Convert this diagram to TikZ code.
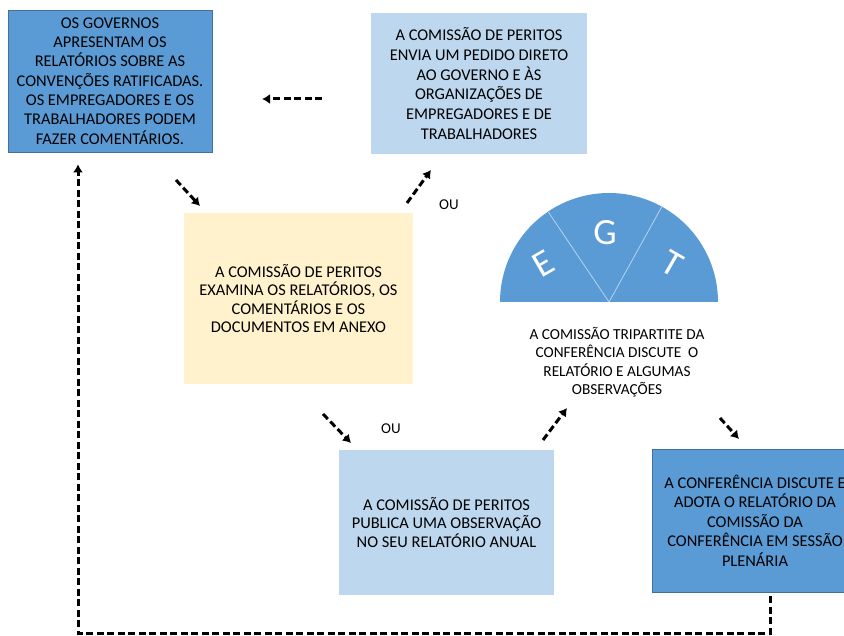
\documentclass[tikz,border=0pt]{standalone}
\usepackage{fontspec}
\setmainfont{Carlito}
\usetikzlibrary{arrows.meta}
\definecolor{dblue}{RGB}{91,155,213}
\definecolor{dborder}{RGB}{65,113,156}
\definecolor{lblue}{RGB}{189,215,238}
\definecolor{lyellow}{RGB}{255,242,204}
\tikzset{
  boxtext/.style={font=\fontsize{16.4}{19.3}\selectfont, align=center, text=black, inner sep=0pt},
  tightfont/.style={font=\fontsize{16.4}{18.6}\selectfont},
  darkbox/.style={boxtext, fill=dblue, draw=dborder, line width=0.8pt},
  lightbox/.style={boxtext, fill=lblue},
  yellowbox/.style={boxtext, fill=lyellow},
  dasharrow/.style={line width=3pt, dash pattern=on 7pt off 3.5pt, -{Latex[length=8pt,width=10pt]}},
  oulabel/.style={font=\fontsize{15}{16}\selectfont, inner sep=2pt},
  letter/.style={font=\fontsize{37}{37}\selectfont, text=white}
}
\begin{document}
\begin{tikzpicture}[x=1pt,y=-1pt]
\useasboundingbox (0,0) rectangle (844,636);
\clip (0,0) rectangle (844,636);
\fill[white] (0,0) rectangle (844,636);

\node[darkbox, minimum width=204pt, minimum height=142pt] (gov) at (110,81)
  {OS GOVERNOS\\APRESENTAM OS\\RELATÓRIOS SOBRE AS\\CONVENÇÕES RATIFICADAS.\\OS EMPREGADORES E OS\\TRABALHADORES PODEM\\FAZER COMENTÁRIOS.};
\node[lightbox, font=\fontsize{16.4}{19.7}\selectfont, minimum width=216pt, minimum height=141pt] (pedido) at (479,83.5)
  {A COMISSÃO DE PERITOS\\ENVIA UM PEDIDO DIRETO\\AO GOVERNO E ÀS\\ORGANIZAÇÕES DE\\EMPREGADORES E DE\\TRABALHADORES};
\node[yellowbox, tightfont, minimum width=229pt, minimum height=171pt] (exam) at (298.5,298.5)
  {A COMISSÃO DE PERITOS\\EXAMINA OS RELATÓRIOS, OS\\COMENTÁRIOS E OS\\DOCUMENTOS EM ANEXO};
\node[lightbox, font=\fontsize{16.4}{18.3}\selectfont, minimum width=215pt, minimum height=145pt] (obs) at (446.5,522.5)
  {A COMISSÃO DE PERITOS\\PUBLICA UMA OBSERVAÇÃO\\NO SEU RELATÓRIO ANUAL};
\node[darkbox, font=\fontsize{16.4}{19.6}\selectfont, minimum width=206pt, minimum height=143pt] (conf) at (755,520.5)
  {A CONFERÊNCIA DISCUTE E\\ADOTA O RELATÓRIO DA\\COMISSÃO DA\\CONFERÊNCIA EM SESSÃO\\PLENÁRIA};

% semicircle
\coordinate (semic) at (609,302);
\fill[dblue] (500,302) arc[start angle=180, end angle=0, radius=109pt] -- cycle;
\draw[white!55!dblue, line width=0.8pt] (semic) -- ++(124:108.5pt);
\draw[white!55!dblue, line width=0.8pt] (semic) -- ++(61:108.5pt);
\node[letter, rotate=30] (le) at (543,264) {E};
\node[letter] (lg) at (605,233) {G};
\node[letter, rotate=-30] (lt) at (672,264) {T};

\node[boxtext, font=\fontsize{15.3}{18.4}\selectfont] (tri) at (617,362)
  {A COMISSÃO TRIPARTITE DA\\CONFERÊNCIA DISCUTE~ O\\RELATÓRIO E ALGUMAS\\OBSERVAÇÕES};

\node[oulabel] (ou1) at (449,205) {OU};
\node[oulabel] (ou2) at (391,429) {OU};

% arrows
\coordinate (a1s) at (322,99);  \coordinate (a1e) at (262,99);
\coordinate (a2s) at (176,180); \coordinate (a2e) at (200,206);
\coordinate (a3s) at (407,203); \coordinate (a3e) at (431,170);
\coordinate (a4s) at (323,414); \coordinate (a4e) at (351,443);
\coordinate (a5s) at (543,440); \coordinate (a5e) at (567,408);
\coordinate (a6s) at (720,418); \coordinate (a6e) at (739,439);
\draw[dasharrow] (a1s) -- (a1e);
\draw[dasharrow] (a2s) -- (a2e);
\draw[dasharrow] (a3s) -- (a3e);
\draw[dasharrow] (a4s) -- (a4e);
\draw[dasharrow] (a5s) -- (a5e);
\draw[dasharrow] (a6s) -- (a6e);

\coordinate (fbstart) at ([xshift=15pt,yshift=-4pt]conf.south);
\coordinate (fbend) at ([xshift=-32pt,yshift=-12pt]gov.south);
\draw[dasharrow] (fbstart) -- ++(0,37) -| (fbend);
\end{tikzpicture}
\end{document}
